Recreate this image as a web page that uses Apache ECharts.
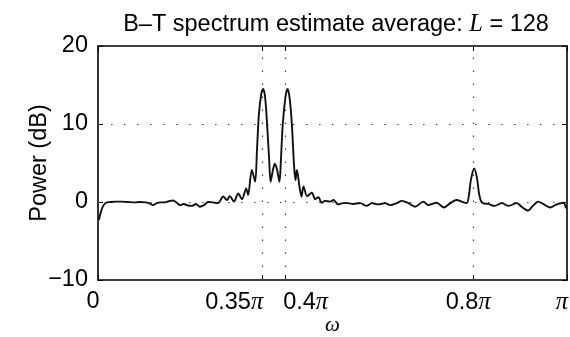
<!DOCTYPE html>
<html><head><meta charset="utf-8">
<script src="https://cdn.jsdelivr.net/npm/echarts@6/dist/echarts.min.js"></script>
<style>html,body{margin:0;padding:0;background:#fff}#c{width:570px;height:337px}</style>
</head><body><div id="c"></div>
<script>
// frequency in units of pi
var omega = [0.002,0.006,0.011,0.017,0.026,0.038,0.051,0.064,0.077,0.090,0.102,0.111,0.117,0.126,0.134,0.143,0.151,0.160,0.168,0.175,0.183,0.192,0.200,0.209,0.217,0.226,0.235,0.245,0.256,0.267,0.275,0.281,0.290,0.299,0.307,0.316,0.320,0.328,0.335,0.339,0.343,0.348,0.352,0.356,0.360,0.365,0.368,0.373,0.377,0.382,0.387,0.390,0.394,0.400,0.404,0.408,0.413,0.418,0.421,0.424,0.430,0.434,0.438,0.446,0.456,0.463,0.470,0.477,0.484,0.495,0.502,0.512,0.522,0.533,0.544,0.559,0.573,0.584,0.597,0.612,0.623,0.637,0.648,0.662,0.676,0.694,0.704,0.722,0.738,0.751,0.765,0.775,0.786,0.791,0.795,0.802,0.808,0.813,0.819,0.832,0.846,0.861,0.875,0.893,0.903,0.917,0.927,0.939,0.949,0.964,0.978,0.992,0.998];
// power in dB
var power = [-2.3,-1.3,-0.5,-0.1,0.0,0.05,0.05,0.0,-0.05,0.0,-0.05,-0.2,-0.4,-0.1,-0.05,-0.05,0.1,0.2,-0.1,-0.4,-0.25,-0.45,-0.5,-0.25,-0.6,-0.4,0.0,-0.05,-0.15,0.7,0.25,0.75,0.05,1.1,0.35,1.75,0.9,4.1,2.6,6.7,11.2,13.8,14.5,13.6,10.5,5.4,2.6,4.1,4.9,4.1,2.6,5.4,10.0,13.6,14.5,13.6,10.3,4.7,2.8,4.1,1.8,0.7,2.0,0.75,1.2,0.35,0.6,-0.1,0.15,0.05,0.25,-0.3,-0.15,-0.15,-0.25,-0.15,-0.5,-0.15,-0.3,-0.15,-0.4,-0.15,0.15,-0.15,-0.6,0.05,-0.4,-0.1,-0.7,-0.15,0.25,0.05,-0.15,0.9,2.8,4.3,3.1,0.9,-0.1,-0.25,-0.5,-0.15,-0.5,-0.15,-0.6,-1.1,-0.5,0.05,-0.25,-0.7,-0.3,-0.1,-0.8];
var xTickValues = [0, 0.35, 0.4, 0.8, 1];
var xTickLabels = ['0', '0.35', '0.4', '0.8', ''];
var yTickValues = [-10, 0, 10, 20];
var xGridValues = [0.35, 0.4, 0.8];
var yGridValues = [0, 10];

var FONT = 'Liberation Sans, Arial, Helvetica, sans-serif';
var SERIF = 'Liberation Serif, Times New Roman, serif';
var FS = 23.5;
// per-label horizontal placement: [left padding, right padding]
var labelPad = [[0, 10], [0, 56], [40, 0], [0, 10], [0, 10]];

var chart = echarts.init(document.getElementById('c'), null, {renderer: 'canvas'});
var pts = omega.map(function (w, i) { return [w, power[i]]; });

var rich = {};
labelPad.forEach(function (p, i) {
  rich['n' + i] = {fontFamily: FONT, fontSize: FS, color: '#000', padding: [0, 0, 0, p[0]]};
  rich['p' + i] = {fontFamily: SERIF, fontStyle: 'italic', fontSize: FS + 1, color: '#000', padding: [0, p[1], 0, 0]};
  rich['z' + i] = {fontFamily: FONT, fontSize: FS, color: '#000', padding: [0, p[1], 0, p[0]]};
});
function xFmt(v) {
  var i = 0;
  for (var k = 0; k < xTickValues.length; k++) if (Math.abs(xTickValues[k] - v) < 1e-6) i = k;
  if (v === 0) return '{z' + i + '|' + xTickLabels[i] + '}';
  var s = '';
  if (xTickLabels[i]) s += '{n' + i + '|' + xTickLabels[i] + '}';
  return s + '{p' + i + '|π}';
}

var gridMarks = xGridValues.map(function (v) { return {xAxis: v}; })
  .concat(yGridValues.map(function (v) { return {yAxis: v}; }));

chart.setOption({
  animation: false,
  backgroundColor: '#fff',
  title: {
    text: 'B–T spectrum estimate average: {i|L} = 128',
    left: 331, textAlign: 'center', top: 7,
    textStyle: {
      fontFamily: FONT, fontSize: FS, fontWeight: 'normal', color: '#000',
      rich: {i: {fontFamily: SERIF, fontStyle: 'italic', fontSize: FS + 1, color: '#000'}}
    }
  },
  grid: {left: 98, right: 3, top: 46, bottom: 57, show: false, containLabel: false, outerBoundsMode: 'none'},
  xAxis: [{
    type: 'value', min: 0, max: 1, position: 'bottom',
    name: 'ω', nameLocation: 'middle', nameGap: 35, nameMoveOverlap: false,
    nameTextStyle: {fontFamily: SERIF, fontStyle: 'italic', fontSize: 21, color: '#000'},
    axisLine: {show: true, onZero: false, lineStyle: {color: '#000', width: 1.6}},
    axisTick: {show: true, inside: true, length: 5, customValues: xTickValues, lineStyle: {color: '#000'}},
    axisLabel: {show: true, margin: 10, customValues: xTickValues, formatter: xFmt, rich: rich, showMinLabel: true, showMaxLabel: true},
    splitLine: {show: false}
  }, {
    type: 'value', min: 0, max: 1, position: 'top',
    axisLine: {show: true, onZero: false, lineStyle: {color: '#000', width: 1.6}},
    axisTick: {show: true, inside: true, length: 5, customValues: xTickValues, lineStyle: {color: '#000'}},
    axisLabel: {show: false}, splitLine: {show: false}
  }],
  yAxis: [{
    type: 'value', min: -10, max: 20, interval: 10, position: 'left',
    name: 'Power (dB)', nameLocation: 'middle', nameGap: 46, nameRotate: 90, nameMoveOverlap: false,
    nameTextStyle: {fontFamily: FONT, fontSize: FS, color: '#000'},
    axisLine: {show: true, onZero: false, lineStyle: {color: '#000', width: 1.6}},
    axisTick: {show: true, inside: true, length: 5, customValues: yTickValues, lineStyle: {color: '#000'}},
    axisLabel: {margin: 10, fontFamily: FONT, fontSize: FS, color: '#000', customValues: yTickValues,
      formatter: function (v) { return v < 0 ? '\u2212' + Math.abs(v) : String(v); }},
    splitLine: {show: false}
  }, {
    type: 'value', min: -10, max: 20, interval: 10, position: 'right',
    axisLine: {show: true, onZero: false, lineStyle: {color: '#000', width: 1.6}},
    axisTick: {show: true, inside: true, length: 5, customValues: yTickValues, lineStyle: {color: '#000'}},
    axisLabel: {show: false}, splitLine: {show: false}
  }],
  series: [{
    type: 'line', xAxisIndex: 0, yAxisIndex: 0,
    data: pts, showSymbol: false, smooth: 0.3,
    lineStyle: {color: '#111', width: 1.9},
    markLine: {
      silent: true, symbol: 'none', label: {show: false},
      lineStyle: {color: '#444', width: 1.2, type: [1.5, 11.5]},
      data: gridMarks
    },
    z: 5
  }]
});
</script></body></html>
